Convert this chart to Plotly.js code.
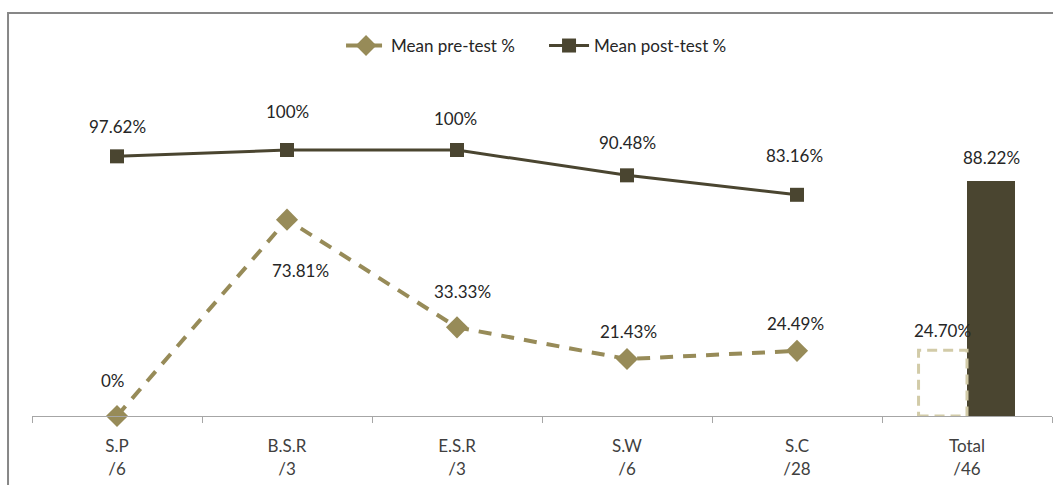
<!DOCTYPE html>
<html>
<head>
<meta charset="utf-8">
<script src="https://cdn.plot.ly/plotly-3.0.1.min.js"></script>
<style>
  html, body { margin: 0; padding: 0; background: #ffffff; }
  #chart { width: 1053px; height: 485px; }
</style>
</head>
<body>
<div id="chart"></div>
<script>
// Groups and the number of participants in each
const groupNames = ["S.P", "B.S.R", "E.S.R", "S.W", "S.C", "Total"];
const groupCounts = [6, 3, 3, 6, 28, 46];

// Mean scores (%) per group; the last entry of each is the overall total
const preTest = [0, 73.81, 33.33, 21.43, 24.49, 24.70];
const postTest = [97.62, 100, 100, 90.48, 83.16, 88.22];

const preLabels = ["0%", "73.81%", "33.33%", "21.43%", "24.49%", "24.70%"];
const postLabels = ["97.62%", "100%", "100%", "90.48%", "83.16%", "88.22%"];

const categories = groupNames.map((n, i) => n + "<br>/" + groupCounts[i]);
const nLine = 5;

const FONT = "Lato, 'Open Sans', sans-serif";
const FS = 17;
const preColor = "#978b58";
const postColor = "#4a4530";
const preBarEdge = "#d2cba8";
const textColor = "#262626";

// pixel nudges for each value label (dx, dy up)
const postShift = [[0, 30], [0, 39], [-2, 32], [0, 33], [-3, 39]];
const preShift = [[-4, 36], [13, -51], [5, 36], [1, 28], [-2, 27]];
const barW = 0.285;

const traces = [
  {
    type: "scatter", mode: "lines+markers", name: "Mean pre-test %",
    x: categories.slice(0, nLine), y: preTest.slice(0, nLine),
    line: { color: preColor, width: 4, dash: "13px,10px" },
    marker: { symbol: "diamond", size: 17, color: preColor },
    cliponaxis: false
  },
  {
    type: "scatter", mode: "lines+markers", name: "Mean post-test %",
    x: categories.slice(0, nLine), y: postTest.slice(0, nLine),
    line: { color: postColor, width: 3 },
    marker: { symbol: "square", size: 14, color: postColor },
    cliponaxis: false
  },
  {
    type: "bar", name: "Total pre", showlegend: false,
    x: [categories[5]], y: [preTest[5]],
    width: [barW], offset: [-barW],
    marker: { color: "rgba(0,0,0,0)", line: { width: 0 } }
  },
  {
    type: "bar", name: "Total post", showlegend: false,
    x: [categories[5]], y: [postTest[5]],
    width: [barW], offset: [0],
    marker: { color: postColor, line: { width: 0 } }
  }
];

const labelFont = { family: FONT, size: FS, color: textColor };
const annotations = [];
for (let i = 0; i < nLine; i++) {
  annotations.push({
    x: categories[i], y: postTest[i], text: postLabels[i], showarrow: false,
    xshift: postShift[i][0], yshift: postShift[i][1], font: labelFont
  });
  annotations.push({
    x: categories[i], y: preTest[i], text: preLabels[i], showarrow: false,
    xshift: preShift[i][0], yshift: preShift[i][1], font: labelFont
  });
}
annotations.push({
  x: 5 - barW / 2, y: preTest[5], text: preLabels[5], showarrow: false,
  yshift: 20, font: labelFont
});
annotations.push({
  x: 5 + barW / 2, y: postTest[5], text: postLabels[5], showarrow: false,
  yshift: 24, font: labelFont
});

const shapes = [
  // dashed outline of the total pre-test bar
  {
    type: "rect", xref: "x", yref: "y",
    x0: 5 - barW, x1: 5, y0: 0, y1: preTest[5],
    line: { color: preBarEdge, width: 3, dash: "10px,6px" },
    fillcolor: "rgba(0,0,0,0)"
  },
  // outer frame (left and top edges)
  {
    type: "path", xref: "paper", yref: "paper",
    path: "M -0.0235,-0.4 L -0.0235,1.1011 L 1.2,1.1011",
    line: { color: "#878787", width: 2 }
  }
];

const layout = {
  width: 1053, height: 485,
  margin: { l: 32, r: 1, t: 50, b: 69 },
  paper_bgcolor: "#ffffff", plot_bgcolor: "#ffffff",
  font: { family: FONT, size: FS, color: textColor },
  showlegend: true,
  legend: {
    orientation: "h", x: 0.502, xanchor: "center", y: 1.011, yanchor: "middle",
    font: { family: FONT, size: FS, color: textColor },
    itemwidth: 40, traceorder: "normal",
    entrywidth: 148, entrywidthmode: "pixels"
  },
  xaxis: {
    type: "category", categoryorder: "array", categoryarray: categories,
    range: [-0.5, 5.5], showgrid: false, zeroline: false,
    showline: true, linecolor: "#a6a6a6", linewidth: 1,
    ticks: "outside", tickson: "boundaries", ticklen: 6, tickcolor: "#a6a6a6",
    ticklabelstandoff: 15,
    tickfont: { family: FONT, size: FS, color: "#404040" }, fixedrange: true
  },
  yaxis: {
    range: [0, 137.6], visible: false, showgrid: false, zeroline: false, fixedrange: true
  },
  bargap: 0, annotations: annotations, shapes: shapes
};

Plotly.newPlot("chart", traces, layout, { displayModeBar: false, staticPlot: true });
</script>
</body>
</html>
